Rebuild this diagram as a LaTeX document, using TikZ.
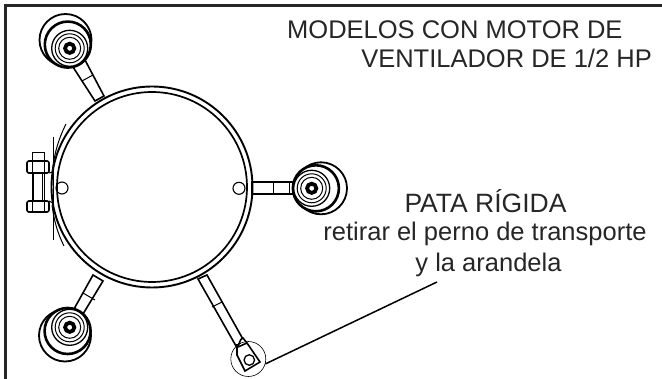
\documentclass[tikz,border=0pt]{standalone}
\usepackage{fontspec}
\setmainfont{Liberation Sans}
\usetikzlibrary{calc}
\tikzset{
  thick line/.style={line width=1.6pt,black},
  thin line/.style={line width=1pt,black},
  label text/.style={font=\fontsize{25.5}{30}\selectfont,align=center,inner sep=0pt,text=black!85},
}
\newcommand{\wheel}[2]{%
  \begin{scope}[shift={(#1)}]
    \draw[line width=1.8pt,fill=white] (#2) circle (26);
    \draw[line width=2.6pt,fill=white] ($(0,0)!0.45!(#2)$) circle (23);
    \draw[line width=1.3pt,fill=white] (0,0) circle (18);
    \draw[thin line] (0,0) circle (14.5);
    \draw[thin line] (0,0) circle (11);
    \draw[line width=3.8pt] (0,0) circle (4.6);
  \end{scope}}
\begin{document}
\begin{tikzpicture}[x=1pt,y=-1pt]
\useasboundingbox (0,0) rectangle (662,379);
% frame
\coordinate (fbl) at (5,379);
\coordinate (ftl) at (5,5.5);
\coordinate (ftr) at (662,5.5);
\draw[line width=3pt,black!85] (fbl) -- (ftl) -- (ftr);
% arms
\draw[thick line,fill=white] (95,101)--(104,96)--(85,60)--(73,67)--cycle;
\draw[thin line] (82,81)--(93,75);
\draw[thick line,fill=white] (252,182)--(297,182)--(297,194)--(252,194)--cycle;
\draw[thin line] (273,182)--(273,194);
\draw[thin line] (289,182)--(289,194);
\draw[thick line,fill=white] (93,275)--(103,281)--(83,314)--(74,309)--cycle;
\draw[thin line] (83,293)--(95,300);
\draw[thick line,fill=white] (198,279)--(207,275)--(244,341)--(236,346)--cycle;
\draw[thin line] (212,307)--(222,302);
% rigid foot
\draw[thick line,fill=white] (237,355) -- (237,345) to[out=-50,in=180] (243,338) -- (247,343) -- (260,362) -- (245,371) -- cycle;
\draw[thick line] (238,347)--(247,343);
\node[circle,draw,line width=1.3pt,minimum size=10.5pt,inner sep=0pt] (bolt) at (249.3,360) {};
\node[circle,draw,line width=0.6pt,minimum size=35pt,inner sep=0pt] (ring) at (248.3,359) {};
% casters
\wheel{69.7,48.3}{-4.2,-8.3}
\wheel{311.7,188.3}{9.3,0}
\wheel{69.7,327.3}{-4.7,8.2}
\draw[white,line width=0.7pt] (309.5,188.3) -- (313.9,188.3);
% lugs
\node[circle,draw,line width=1.1pt,minimum size=12pt,inner sep=0pt,fill=white] (lugl) at (62,188) {};
\node[circle,draw,line width=1.1pt,minimum size=12pt,inner sep=0pt,fill=white] (lugr) at (239,188.3) {};
% body
\coordinate (cc) at (152,187);
\node[circle,draw,line width=1.9pt,minimum size=201pt,inner sep=0pt] (body) at (cc) {};
\node[circle,draw,line width=1.7pt,minimum size=190pt,inner sep=0pt] (bodyin) at (cc) {};
% clamp bands
\draw[thin line] (66,124) .. controls (58,140) and (54,155) .. (52,173);
\draw[thin line] (52,205) .. controls (54,220) and (57,232) .. (64,246);
\draw[thin line] (53,137) -- (53,240);
% clamp bolt
\draw[thin line,fill=white] (32,153) rectangle (44,212);
\draw[thin line] (33.5,172) -- (33.5,201) (42.5,172) -- (42.5,201);
\draw[thick line,fill=white,rounded corners=2pt] (27,161) rectangle (49,173);
\draw[thick line,fill=white,rounded corners=2pt] (27,201) rectangle (49,212);
\draw[thin line] (32,161)--(32,173) (44,161)--(44,173) (32,201)--(32,212) (44,201)--(44,212);
\draw[thin line] (49,173) -- (53,172) (49,201) -- (53,203);
% texts
\node[label text,anchor=base west] (t1) at (287,38.5) {MODELOS CON MOTOR DE};
\node[label text,anchor=base east] (t2) at (652,67.5) {VENTILADOR DE 1/2 HP};
\node[label text,anchor=base,font=\fontsize{26.5}{30}\selectfont] (t3) at (485.5,212.5) {PATA RÍGIDA};
\node[label text,anchor=base] (t4) at (485,241) {retirar el perno de transporte};
\node[label text,anchor=base] (t5) at (488.5,271.5) {y la arandela};
% leader
\coordinate (lead) at (437,282);
\draw[line width=1.5pt] (ring.-16) -- (lead);
\end{tikzpicture}
\end{document}
